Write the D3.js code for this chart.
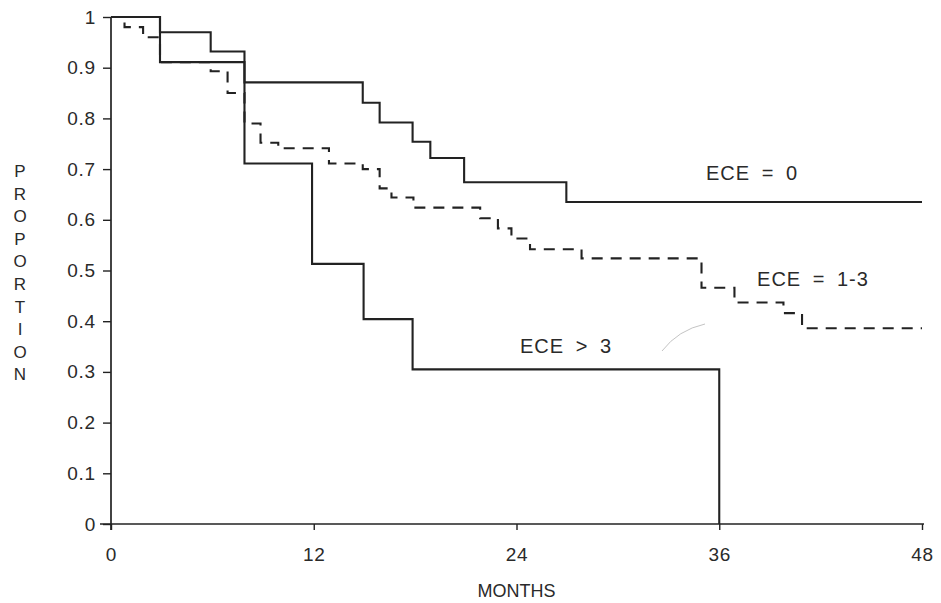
<!DOCTYPE html>
<html>
<head>
<meta charset="utf-8">
<script src="https://cdn.jsdelivr.net/npm/d3@7"></script>
<style>
  html, body { margin: 0; padding: 0; background: #fff; }
  svg { display: block; }
  text { font-family: "Liberation Sans", Arial, Helvetica, sans-serif; fill: #2a2a2a; }
</style>
</head>
<body>
<svg id="chart" width="941" height="603"></svg>
<script>
// Kaplan–Meier survival by extracapsular extension (ECE) group
const monthsEce0 = [0, 2.9, 5.9, 7.9, 14.9, 15.9, 17.85, 18.9, 20.9, 26.95];
const survEce0   = [1, 0.97, 0.932, 0.871, 0.831, 0.792, 0.754, 0.722, 0.674, 0.635];

const monthsEce13 = [0, 0.8, 1.9, 2.9, 5.9, 6.9, 7.9, 8.85, 9.9, 12.9, 14.9, 15.9, 16.6, 17.9, 21.85, 22.9, 23.7, 24.8, 27.85, 34.95, 36.9, 39.8, 40.9];
const survEce13   = [1, 0.98, 0.96, 0.911, 0.893, 0.85, 0.79, 0.752, 0.741, 0.711, 0.70, 0.662, 0.644, 0.624, 0.603, 0.583, 0.563, 0.542, 0.524, 0.466, 0.437, 0.416, 0.386];

const monthsEce3 = [0, 2.9, 7.9, 11.9, 14.95, 17.85, 36];
const survEce3   = [1, 0.911, 0.711, 0.513, 0.404, 0.305, 0];

const xTicks = [0, 12, 24, 36, 48];
const yTicks = [0, 0.1, 0.2, 0.3, 0.4, 0.5, 0.6, 0.7, 0.8, 0.9, 1];
const yTickLabels = ["0", "0.1", "0.2", "0.3", "0.4", "0.5", "0.6", "0.7", "0.8", "0.9", "1"];

const groupLabels = ["ECE = 0", "ECE = 1-3", "ECE > 3"];
const xTitle = "MONTHS";
const yTitle = "PROPORTION";
const followUpEnd = 48;

const svg = d3.select("#chart");
const ink = "#222";

const x = d3.scaleLinear().domain([0, 48]).range([111, 922]);
const y = d3.scaleLinear().domain([0, 1]).range([524, 17]);

// build step series; each curve is carried out to its last follow-up time
function series(ms, ss, end) {
  const pts = ms.map((m, i) => [m, ss[i]]);
  if (end !== undefined) pts.push([end, ss[ss.length - 1]]);
  return pts;
}
const line = d3.line().x(d => x(d[0])).y(d => y(d[1])).curve(d3.curveStepAfter);

// axes
const yAxis = d3.axisLeft(y).tickValues(yTicks).tickSize(8).tickPadding(7)
  .tickFormat((d, i) => yTickLabels[i]);
const gy = svg.append("g").attr("transform", `translate(${x(0)},0)`).call(yAxis);
gy.select(".domain").attr("d", `M0,${y(1)}V${y(0) + 6}`);

const xAxis = d3.axisBottom(x).tickValues(xTicks).tickSize(6).tickPadding(18).tickFormat(d3.format("d"));
const gx = svg.append("g").attr("transform", `translate(0,${y(0)})`).call(xAxis);
gx.select(".domain").attr("d", `M${x(0) - 11},0H${x(48) + 2}`);

[gx, gy].forEach(g => {
  g.selectAll(".domain").attr("stroke", ink).attr("stroke-width", 1.7).attr("fill", "none");
  g.selectAll(".tick line").attr("stroke", ink).attr("stroke-width", 1.4);
  g.selectAll(".tick text").attr("font-size", 19).attr("fill", "#2a2a2a")
    .attr("letter-spacing", 0.8)
    .style("font-family", '"Liberation Sans", Arial, sans-serif');
});

// survival curves
svg.append("path").datum(series(monthsEce0, survEce0, followUpEnd))
  .attr("d", line).attr("fill", "none").attr("stroke", ink).attr("stroke-width", 2.1);

svg.append("path").datum(series(monthsEce3, survEce3))
  .attr("d", line).attr("fill", "none").attr("stroke", ink).attr("stroke-width", 2.1);

svg.append("path").datum(series(monthsEce13, survEce13, followUpEnd))
  .attr("d", line).attr("fill", "none").attr("stroke", ink).attr("stroke-width", 2.1)
  .attr("stroke-dasharray", "11,8");

// group labels
const lab = svg.append("g").attr("font-size", 20).attr("letter-spacing", 1).attr("word-spacing", 5);
lab.append("text").attr("x", 752).attr("y", 180).attr("text-anchor", "middle").text(groupLabels[0]);
lab.append("text").attr("x", 813).attr("y", 286).attr("text-anchor", "middle").text(groupLabels[1]);
lab.append("text").attr("x", 566).attr("y", 353).attr("text-anchor", "middle").text(groupLabels[2]);

// faint stroke on the page near the lower labels
svg.append("path").attr("d", "M662,351 Q678,330 705,324")
  .attr("fill", "none").attr("stroke", "#c4c4c4").attr("stroke-width", 1);

// axis titles
svg.append("text").attr("x", x(24)).attr("y", 597).attr("text-anchor", "middle")
  .attr("font-size", 18).text(xTitle);

const yt = svg.append("g").attr("font-size", 17);
yTitle.split("").forEach((ch, i) => {
  yt.append("text").attr("x", 20).attr("y", 177 + i * 22.6).attr("text-anchor", "middle").text(ch);
});
</script>
</body>
</html>
